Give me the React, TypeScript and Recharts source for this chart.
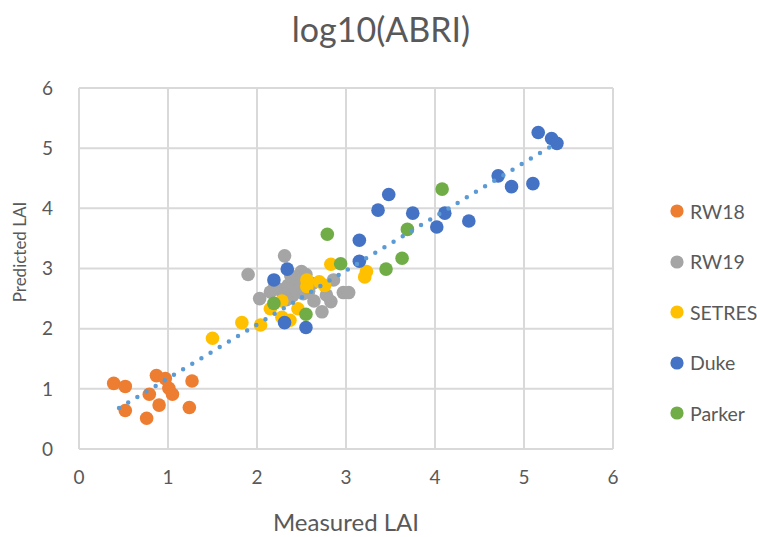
import React from 'react';
import { ScatterChart, Scatter, XAxis, YAxis, CartesianGrid, Legend } from 'recharts';

const FONT = 'Lato, "Noto Sans", sans-serif';
const TEXT = '#595959';
const GRID = '#D9D9D9';

// Measured vs predicted LAI for each site
const rw18X = [0.39, 0.52, 0.52, 0.76, 0.79, 0.9, 0.87, 0.97, 1.01, 1.05, 1.27, 1.24];
const rw18Y = [1.09, 1.04, 0.64, 0.51, 0.91, 0.73, 1.22, 1.17, 1.01, 0.91, 1.13, 0.69];

const rw19X = [1.9, 2.31, 2.5, 2.86, 2.97, 3.03, 2.83, 2.73, 2.64, 2.03, 2.15, 2.25, 2.35, 2.42, 2.48, 2.52, 2.4, 2.3, 2.45, 2.58, 2.38, 2.2, 2.62, 2.55, 2.33, 2.78];
const rw19Y = [2.9, 3.21, 2.95, 2.81, 2.6, 2.6, 2.45, 2.28, 2.46, 2.5, 2.61, 2.65, 2.72, 2.78, 2.66, 2.58, 2.55, 2.58, 2.85, 2.62, 2.88, 2.7, 2.75, 2.9, 2.48, 2.56];

const setresX = [1.5, 1.83, 2.04, 2.15, 2.28, 2.28, 2.37, 2.46, 2.56, 2.56, 2.7, 2.76, 2.83, 3.23, 3.21];
const setresY = [1.84, 2.1, 2.06, 2.33, 2.46, 2.19, 2.14, 2.33, 2.81, 2.7, 2.78, 2.72, 3.07, 2.95, 2.86];

const dukeX = [5.16, 5.31, 5.37, 4.71, 4.86, 5.1, 3.48, 3.36, 3.75, 4.11, 4.02, 4.38, 3.15, 3.15, 2.34, 2.19, 2.31, 2.55];
const dukeY = [5.26, 5.16, 5.08, 4.54, 4.36, 4.41, 4.23, 3.97, 3.92, 3.92, 3.69, 3.79, 3.47, 3.12, 2.99, 2.81, 2.1, 2.02];

const parkerX = [4.08, 3.69, 2.79, 3.63, 3.45, 2.94, 2.19, 2.55];
const parkerY = [4.32, 3.65, 3.57, 3.17, 2.99, 3.08, 2.42, 2.24];

// Linear trendline end points
const trendX = [0.45, 5.37];
const trendY = [0.68, 5.09];

const axisTicks = [0, 1, 2, 3, 4, 5, 6];

const seriesNames = ['RW18', 'RW19', 'SETRES', 'Duke', 'Parker'];
const seriesColors = ['#ED7D31', '#A5A5A5', '#FFC000', '#4472C4', '#70AD47'];

const zip = (xs: number[], ys: number[]) => xs.map((x, i) => ({ x, y: ys[i] }));

const seriesData = [
  zip(rw18X, rw18Y),
  zip(rw19X, rw19Y),
  zip(setresX, setresY),
  zip(dukeX, dukeY),
  zip(parkerX, parkerY),
];
const trendData = zip(trendX, trendY);

const makeDot = (color: string) => (props: any) => (
  <circle cx={props.cx} cy={props.cy} r={6.8} fill={color} />
);

const renderLegend = () => (
  <div style={{ fontFamily: FONT, fontSize: 19.5, color: TEXT, whiteSpace: 'nowrap' }}>
    {seriesNames.map((n, i) => (
      <div key={n} style={{ display: 'flex', alignItems: 'center', height: 50.5 }}>
        <svg width={14} height={14} style={{ display: 'block' }}>
          <circle cx={7} cy={7} r={6.6} fill={seriesColors[i]} />
        </svg>
        <span style={{ marginLeft: 6 }}>{n}</span>
      </div>
    ))}
  </div>
);

const tickStyle = { fill: TEXT, fontSize: 19, fontFamily: FONT };

export default function App() {
  return (
    <div style={{ position: 'absolute', left: 0, top: 0, width: 757, height: 537, background: '#fff', overflow: 'hidden' }}>
      <ScatterChart width={757} height={537} margin={{ top: 88, right: 144, bottom: 0, left: 0 }}>
        <CartesianGrid stroke={GRID} strokeWidth={2} />
        <XAxis
          type="number"
          dataKey="x"
          domain={[0, 6]}
          ticks={axisTicks}
          height={88}
          tickSize={0}
          tickMargin={22}
          tick={tickStyle}
          axisLine={{ stroke: GRID, strokeWidth: 2 }}
          tickLine={false}
        />
        <YAxis
          type="number"
          dataKey="y"
          domain={[0, 6]}
          ticks={axisTicks}
          width={79}
          tickSize={0}
          tickMargin={26}
          tick={tickStyle}
          axisLine={{ stroke: GRID, strokeWidth: 2 }}
          tickLine={false}
        />
        {seriesNames.map((n, i) => (
          <Scatter
            key={n}
            name={n}
            data={seriesData[i]}
            fill={seriesColors[i]}
            shape={makeDot(seriesColors[i])}
            isAnimationActive={false}
          />
        ))}
        <Scatter
          name="trend"
          data={trendData}
          legendType="none"
          shape={() => <g />}
          line={{ stroke: '#5B9BD5', strokeWidth: 4.5, strokeDasharray: '0 10.7', strokeLinecap: 'round' }}
          isAnimationActive={false}
        />
        <Legend
          layout="vertical"
          align="center"
          verticalAlign="middle"
          content={renderLegend}
          wrapperStyle={{ left: 670, top: 186, width: 100 }}
        />
      </ScatterChart>
      <div
        style={{
          position: 'absolute', left: 181, top: 6.5, width: 400, textAlign: 'center',
          fontFamily: FONT, fontSize: 34, color: TEXT, lineHeight: '44px',
        }}
      >
        log10(ABRI)
      </div>
      <div
        style={{
          position: 'absolute', left: 146, top: 507, width: 400, textAlign: 'center',
          fontFamily: FONT, fontSize: 24, color: TEXT, lineHeight: '30px',
        }}
      >
        Measured LAI
      </div>
      <div
        style={{
          position: 'absolute', left: 20 - 100, top: 252 - 13, width: 200, textAlign: 'center',
          fontFamily: FONT, fontSize: 17, color: TEXT, lineHeight: '26px',
          transform: 'rotate(-90deg)',
        }}
      >
        Predicted LAI
      </div>
    </div>
  );
}
